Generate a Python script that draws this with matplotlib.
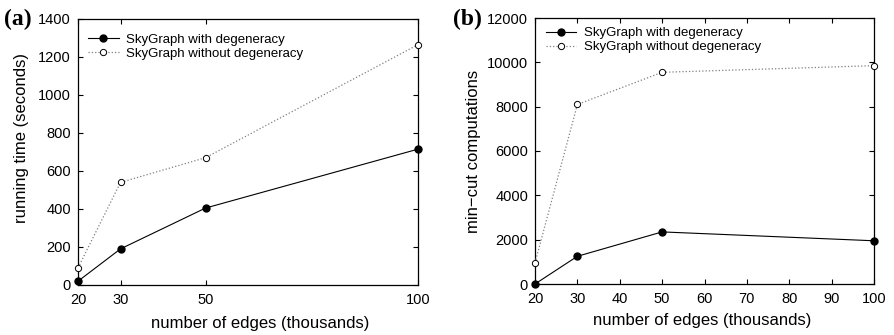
import matplotlib
matplotlib.use("Agg")
import matplotlib.pyplot as plt

plt.rcParams['font.family'] = ['Liberation Sans', 'DejaVu Sans']

# data
edges_a = [20, 30, 50, 100]
time_with = [20, 190, 405, 715]
time_without = [90, 540, 670, 1265]

edges_b = [20, 30, 50, 100]
cuts_with = [0, 1250, 2350, 1950]
cuts_without = [950, 8100, 9550, 9850]

lbl_with = 'SkyGraph with degeneracy'
lbl_without = 'SkyGraph without degeneracy'


def style_axes(ax):
    # gnuplot look: ticks inward on every side
    ax.tick_params(direction='in', length=3.5, width=0.8, labelsize=10.5,
                   top=True, right=True)
    ax.tick_params(axis='x', pad=6)
    ax.tick_params(axis='y', pad=5)
    for s in ax.spines.values():
        s.set_linewidth(0.9)


def draw(ax, x, y1, y2, anchor):
    ax.plot(x, y1, '-', color='black', lw=0.8, marker='o', ms=5,
            mfc='black', mec='black', label=lbl_with, clip_on=False, zorder=3)
    ax.plot(x, y2, ':', color='#808080', lw=0.9, marker='o', ms=4.5,
            mfc='white', mec='black', mew=0.7, label=lbl_without,
            clip_on=False, zorder=3)
    ax.legend(loc='upper left', bbox_to_anchor=anchor, frameon=False,
              fontsize=9.5, handlelength=2.3, handletextpad=0.6,
              borderaxespad=0, borderpad=0, labelspacing=0.15)


fig = plt.figure(figsize=(8.94, 3.35), dpi=100)

# (a) running time
ax1 = fig.add_axes([78 / 894, 50 / 335, 340 / 894, 266 / 335])
draw(ax1, edges_a, time_with, time_without, (0.03, 0.945))
ax1.set_xlim(20, 100)
ax1.set_ylim(0, 1400)
ax1.set_xticks(edges_a)
ax1.set_yticks(range(0, 1401, 200))
ax1.set_xlabel('number of edges (thousands)', fontsize=12)
ax1.set_ylabel('running time (seconds)', fontsize=12)
ax1.xaxis.set_label_coords(0.535, -0.115)
ax1.yaxis.set_label_coords(-0.144, 0.553)
style_axes(ax1)
fig.text(4 / 894, 1 - 19 / 335, '(a)', family='Liberation Serif',
         fontweight='bold', fontsize=17, va='center')

# (b) min-cut computations
ax2 = fig.add_axes([535 / 894, 51 / 335, 339 / 894, 266 / 335])
draw(ax2, edges_b, cuts_with, cuts_without, (0.032, 0.966))
ax2.set_xlim(20, 100)
ax2.set_ylim(0, 12000)
ax2.set_xticks(range(20, 101, 10))
ax2.set_yticks(range(0, 12001, 2000))
ax2.set_xlabel('number of edges (thousands)', fontsize=12)
ax2.set_ylabel('min\u2212cut computations', fontsize=12)
ax2.xaxis.set_label_coords(0.493, -0.11)
ax2.yaxis.set_label_coords(-0.160, 0.5)
style_axes(ax2)
fig.text(453 / 894, 1 - 19 / 335, '(b)', family='Liberation Serif',
         fontweight='bold', fontsize=17, va='center')

fig.savefig('out.png', dpi=100)
